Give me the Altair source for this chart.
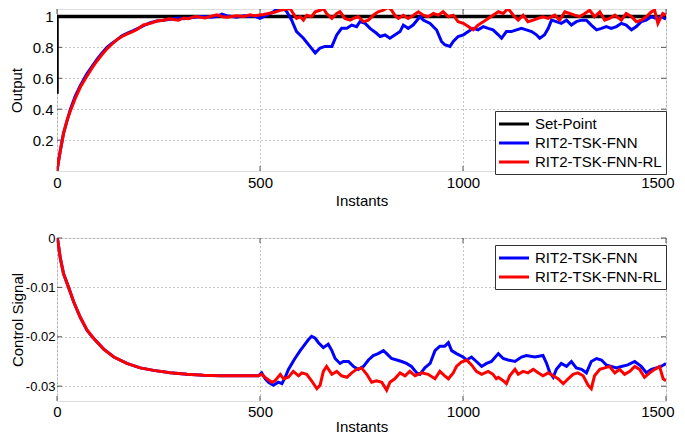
import altair as alt
import pandas as pd

FONT = "Liberation Sans"

# ---------------- top panel (Output) ----------------
sp_t = [0, 0, 1500]
sp_v = [0.5, 1.0, 1.0]

out_blue_t = [0, 8, 16, 33, 45, 57, 74, 86, 98, 110, 123, 135, 148, 160, 172, 185, 197, 213, 230, 246,
              262, 275, 287, 299, 312, 324, 340, 353, 365, 378, 394, 406, 418, 431, 443, 460, 476, 484,
              500, 517, 533, 541, 558, 566, 578, 590, 607, 623, 636, 648, 660, 677, 689, 701, 714, 726,
              738, 746, 759, 771, 787, 796, 808, 820, 832, 845, 853, 865, 877, 894, 902, 919, 935, 947,
              955, 968, 976, 988, 1001, 1013, 1025, 1037, 1050, 1062, 1074, 1087, 1095, 1107, 1119, 1132,
              1144, 1156, 1169, 1181, 1189, 1201, 1210, 1218, 1230, 1242, 1255, 1267, 1279, 1292, 1304,
              1316, 1329, 1341, 1353, 1365, 1378, 1390, 1402, 1415, 1427, 1439, 1451, 1464, 1476, 1488, 1500]
out_blue_v = [0.0, 0.13, 0.245, 0.40, 0.485, 0.55, 0.63, 0.675, 0.72, 0.76, 0.80, 0.825, 0.85, 0.875, 0.89,
              0.905, 0.92, 0.94, 0.96, 0.97, 0.975, 0.98, 0.985, 0.99, 0.985, 0.99, 0.995, 1.0, 1.0, 0.995,
              1.0, 1.015, 1.005, 1.0, 0.995, 1.005, 1.0, 1.004,
              0.987, 1.008, 1.03, 1.047, 1.051, 1.03, 0.976, 0.902, 0.859, 0.806, 0.764, 0.796, 0.806, 0.806,
              0.88, 0.923, 0.923, 0.944, 0.934, 0.966, 0.955, 0.923, 0.891, 0.87, 0.88, 0.859, 0.88, 0.902,
              0.944, 0.923, 0.944, 0.998, 0.976, 0.955, 0.912, 0.838, 0.817, 0.806, 0.838,
              0.870, 0.881, 0.902, 0.923, 0.913, 0.934, 0.923, 0.913, 0.881, 0.859, 0.902, 0.902, 0.913,
              0.923, 0.913, 0.902, 0.881, 0.859, 0.881, 0.923, 0.976, 0.966, 0.955, 0.976, 0.944, 0.966,
              0.976, 0.976, 0.944, 0.913, 0.923, 0.934, 0.923, 0.934, 0.955, 0.944, 0.913, 0.934, 0.966,
              0.976, 0.998, 0.987, 0.998, 0.983]

out_red_t = [0, 4, 8, 16, 25, 33, 45, 57, 66, 74, 86, 98, 110, 123, 135, 148, 160, 172, 185, 197, 213, 230,
             246, 262, 275, 287, 299, 312, 324, 340, 353, 365, 378, 394, 406, 418, 431, 443, 460, 476, 484,
             509, 533, 550, 566, 574, 582, 590, 599, 607, 615, 627, 636, 648, 656, 664, 677, 689, 697, 709,
             722, 730, 742, 755, 767, 779, 791, 804, 816, 824, 832, 841, 853, 865, 878, 890, 902, 914, 927,
             939, 951, 964, 976, 988, 1001, 1013, 1025, 1037, 1050, 1062, 1074, 1087, 1099, 1111, 1124,
             1136, 1148, 1160, 1173, 1185, 1197, 1210, 1226, 1238, 1251, 1263, 1275, 1287, 1300, 1312,
             1324, 1337, 1349, 1361, 1374, 1390, 1402, 1415, 1427, 1439, 1451, 1464, 1472, 1480, 1492, 1500]
out_red_v = [0.0, 0.07, 0.13, 0.24, 0.33, 0.39, 0.47, 0.54, 0.58, 0.615, 0.665, 0.71, 0.75, 0.79, 0.82,
             0.85, 0.87, 0.885, 0.90, 0.915, 0.945, 0.955, 0.97, 0.975, 0.985, 0.98, 0.975, 0.99, 0.985,
             1.0, 0.995, 0.99, 1.0, 1.01, 1.0, 0.995, 1.0, 1.005, 1.0, 1.01, 1.004,
             1.013, 1.025, 1.040, 1.047, 1.051, 1.019, 0.987, 0.998, 0.976, 1.008, 0.998, 1.030, 1.040,
             1.051, 1.019, 0.987, 1.019, 1.030, 0.987, 0.976, 0.987, 0.998, 0.966, 0.976, 1.008, 1.030,
             1.040, 1.06, 1.040, 1.008, 0.987, 1.008, 0.987, 1.008, 1.030, 1.008, 0.998, 1.019, 1.008,
             1.030, 0.998, 1.008, 0.966, 0.955, 0.934, 0.913, 0.944, 0.966, 0.987, 1.008, 1.030, 1.019,
             1.051, 1.008, 0.976, 1.008, 0.966, 0.976, 0.987, 0.998, 0.987, 1.008, 0.976, 1.030, 1.019,
             1.008, 0.998, 1.019, 1.040, 0.998, 1.030, 0.976, 0.987, 1.008, 0.976, 1.019, 0.998, 0.966,
             0.976, 0.998, 1.030, 1.040, 0.955, 1.019, 1.008]

# ---------------- bottom panel (Control Signal) ----------------
cs_blue_t = [0, 2, 8, 16, 29, 41, 57, 74, 90, 115, 140, 172, 205, 238, 279, 320, 361, 402, 443, 496,
             504, 513, 521, 533, 545, 554, 562, 570, 586, 599, 611, 619, 627, 636, 644, 656, 668, 677, 685,
             697, 705, 718, 730, 742, 755, 767, 779, 791, 804, 812, 824, 837, 849, 861, 873, 886, 894, 906,
             919, 931, 943, 955, 964, 972, 984, 1000, 1009, 1021, 1033, 1046, 1058, 1070, 1087, 1099, 1111,
             1128, 1144, 1156, 1177, 1197, 1206, 1214, 1222, 1230, 1242, 1255, 1267, 1279, 1292, 1304, 1316,
             1329, 1341, 1353, 1365, 1378, 1390, 1406, 1423, 1439, 1452, 1464, 1476, 1488, 1500]
cs_blue_v = [0.0, -0.0005, -0.004, -0.0072, -0.0101, -0.0129, -0.016, -0.0187, -0.0203, -0.0225, -0.0241,
             -0.0254, -0.0263, -0.0268, -0.0273, -0.0276, -0.0278, -0.0279, -0.0279, -0.0279,
             -0.0273, -0.0285, -0.0292, -0.0298, -0.0292, -0.0295, -0.0282, -0.0266, -0.0244, -0.0228,
             -0.0215, -0.0206, -0.0199, -0.0203, -0.0212, -0.0222, -0.0215, -0.0228, -0.0244, -0.0254,
             -0.0250, -0.0250, -0.0260, -0.0266, -0.0260, -0.0247, -0.0238, -0.0234, -0.0228, -0.0234,
             -0.0244, -0.0247, -0.0250, -0.0254, -0.0260, -0.0273, -0.0276, -0.0263, -0.0254, -0.0228,
             -0.0219, -0.0219, -0.0212, -0.0228, -0.0234, -0.0241, -0.0247, -0.0241, -0.0250, -0.0260,
             -0.0254, -0.0250, -0.0234, -0.0244, -0.0247, -0.0250, -0.0241, -0.0238, -0.0241, -0.0238,
             -0.0254, -0.0273, -0.0282, -0.0266, -0.0254, -0.0260, -0.0250, -0.0263, -0.0266, -0.0273,
             -0.0250, -0.0244, -0.0247, -0.0257, -0.0260, -0.0263, -0.0260, -0.0257, -0.0250, -0.0260,
             -0.0273, -0.0266, -0.0263, -0.0260, -0.0254]

cs_red_t = [0, 2, 8, 16, 29, 41, 57, 74, 90, 115, 140, 172, 205, 238, 279, 320, 361, 402, 443, 496,
            504, 517, 529, 537, 550, 558, 570, 582, 595, 603, 615, 627, 640, 648, 656, 664, 677, 689, 701,
            714, 726, 738, 750, 763, 775, 787, 800, 812, 820, 832, 845, 857, 869, 882, 898, 914, 931, 943,
            955, 964, 976, 984, 996, 1009, 1021, 1033, 1046, 1062, 1074, 1082, 1087, 1099, 1107, 1115, 1128,
            1136, 1148, 1160, 1173, 1185, 1197, 1210, 1222, 1234, 1247, 1259, 1271, 1283, 1296, 1308, 1316,
            1324, 1337, 1349, 1361, 1374, 1386, 1398, 1411, 1423, 1435, 1447, 1460, 1472, 1484, 1493, 1500]
cs_red_v = [0.0, -0.0005, -0.004, -0.0072, -0.0101, -0.0129, -0.016, -0.0186, -0.0203, -0.0225, -0.0241,
            -0.0254, -0.0263, -0.0268, -0.0273, -0.0276, -0.0278, -0.0279, -0.0279, -0.0279,
            -0.0276, -0.0285, -0.0292, -0.0289, -0.0276, -0.0285, -0.0282, -0.0270, -0.0279, -0.0273,
            -0.0276, -0.0289, -0.0305, -0.0298, -0.0270, -0.0260, -0.0276, -0.0270, -0.0279, -0.0282,
            -0.0273, -0.0266, -0.0263, -0.0276, -0.0292, -0.0289, -0.0292, -0.0308, -0.0292, -0.0285,
            -0.0273, -0.0279, -0.0270, -0.0279, -0.0273, -0.0276, -0.0285, -0.0270, -0.0279, -0.0285,
            -0.0273, -0.0260, -0.0251, -0.0247, -0.0257, -0.0270, -0.0276, -0.0270, -0.0276, -0.0285,
            -0.0282, -0.0289, -0.0295, -0.0279, -0.0266, -0.0276, -0.0270, -0.0273, -0.0266, -0.0273,
            -0.0279, -0.0273, -0.0279, -0.0285, -0.0295, -0.0285, -0.0276, -0.0273, -0.0279, -0.0298,
            -0.0305, -0.0279, -0.0266, -0.0263, -0.0260, -0.0273, -0.0266, -0.0276, -0.0270, -0.0260,
            -0.0266, -0.0282, -0.0273, -0.0266, -0.0260, -0.0285, -0.0289]

x_ticks = [0, 500, 1000, 1500]
y1_ticks = [0.2, 0.4, 0.6, 0.8, 1.0]
y2_ticks = [-0.03, -0.02, -0.01, 0.0]

NAMES3 = ["Set-Point", "RIT2-TSK-FNN", "RIT2-TSK-FNN-RL"]
COLS3 = ["#000000", "#0000ff", "#ff0000"]


def frame(ts, vs, name):
    return pd.DataFrame({"t": ts, "v": vs, "series": name, "i": list(range(len(ts)))})


W = 609
H1 = 162
H2 = 163
TICK = 5
FRAME = "#555555"

grid_kw = dict(grid=True, gridColor="#8c8c8c", gridDash=[1, 3], gridWidth=1,
               domain=False, ticks=False, labelFont=FONT, labelColor="black",
               titleFont=FONT, titleFontSize=15, titleFontWeight="normal", titleColor="black")

# keep the last x label inside the page (the reference's own right edge is past the page margin)
last_align = {"expr": "datum.value == 1500 ? 'right' : 'center'"}
last_offset = {"expr": "datum.value == 1500 ? 8 : 0"}

xscale = alt.Scale(domain=[0, 1500], nice=False, zero=False)
xaxis_top = alt.Axis(values=x_ticks, title="Instants", labelPadding=4, titlePadding=3, format="d",
                     labelFontSize=15, labelFlush=False, labelAlign=last_align, labelOffset=last_offset,
                     **grid_kw)
xaxis_bot = alt.Axis(values=x_ticks, title="Instants", labelPadding=3, titlePadding=0, format="d",
                     labelFontSize=15, labelFlush=False, labelAlign=last_align, labelOffset=last_offset,
                     **grid_kw)

leg_kw = dict(title=None, orient="none", symbolType="M-2,0H2", symbolSize=225, symbolStrokeWidth=3,
              symbolOffset=6, labelFont=FONT, labelFontSize=15, labelColor="black", strokeColor="#333333",
              fillColor="white", padding=4, rowPadding=2, labelOffset=12, labelLimit=300)

y1scale = alt.Scale(domain=[0, 1.048], nice=False, zero=False)
y1axis = alt.Axis(values=y1_ticks, title="Output", labelPadding=4, titlePadding=8, labelFontSize=15,
                  labelExpr="datum.value == 1 ? '1' : format(datum.value, '.1f')", **grid_kw)
y2scale = alt.Scale(domain=[-0.033, 0], nice=False, zero=False)
y2axis = alt.Axis(values=y2_ticks, title="Control Signal", labelPadding=2, titlePadding=0, labelFontSize=13,
                  labelExpr="datum.value == 0 ? '0' : '-' + format(abs(datum.value), '.2f')", **grid_kw)


def tick_layers(xax, yscale, yax, yvals, H):
    xt = pd.DataFrame({"t": x_ticks})
    yt = pd.DataFrame({"v": yvals})
    X = alt.X("t:Q", scale=xscale, axis=xax)
    Y = alt.Y("v:Q", scale=yscale, axis=yax)
    base = dict(color=FRAME, strokeWidth=1)
    return [
        alt.Chart(xt).mark_rule(**base).encode(x=X, y=alt.value(H), y2=alt.value(H - TICK)),
        alt.Chart(xt).mark_rule(**base).encode(x=X, y=alt.value(0), y2=alt.value(TICK)),
        alt.Chart(yt).mark_rule(**base).encode(y=Y, x=alt.value(0), x2=alt.value(TICK)),
        alt.Chart(yt).mark_rule(**base).encode(y=Y, x=alt.value(W - TICK), x2=alt.value(W)),
    ]


# ---- top
top_color = alt.Color("series:N", scale=alt.Scale(domain=NAMES3, range=COLS3),
                      legend=alt.Legend(legendX=438, legendY=102, **leg_kw))


def line_top(df, sw=3):
    return alt.Chart(df).mark_line(strokeWidth=sw, clip=True).encode(
        x=alt.X("t:Q", scale=xscale, axis=xaxis_top),
        y=alt.Y("v:Q", scale=y1scale, axis=y1axis),
        color=top_color, order="i:Q")


top = alt.layer(
    *tick_layers(xaxis_top, y1scale, y1axis, y1_ticks, H1),
    line_top(frame(sp_t, sp_v, NAMES3[0]), 3.5),
    line_top(frame(out_blue_t, out_blue_v, NAMES3[1])),
    line_top(frame(out_red_t, out_red_v, NAMES3[2])),
).properties(width=W, height=H1)

# ---- bottom
bot_color = alt.Color("series:N", scale=alt.Scale(domain=NAMES3[1:], range=COLS3[1:]),
                      legend=alt.Legend(legendX=438, legendY=7, **leg_kw))


def line_bot(df):
    return alt.Chart(df).mark_line(strokeWidth=3, clip=True).encode(
        x=alt.X("t:Q", scale=xscale, axis=xaxis_bot),
        y=alt.Y("v:Q", scale=y2scale, axis=y2axis),
        color=bot_color, order="i:Q")


bottom = alt.layer(
    *tick_layers(xaxis_bot, y2scale, y2axis, y2_ticks, H2),
    line_bot(frame(cs_blue_t, cs_blue_v, NAMES3[1])),
    line_bot(frame(cs_red_t, cs_red_v, NAMES3[2])),
).properties(width=W, height=H2)

chart = alt.vconcat(top, bottom, spacing=67, bounds="flush").resolve_scale(
    color="independent").properties(
    padding={"left": 0, "top": 0, "right": 0, "bottom": -1}
).configure_view(stroke=FRAME, strokeWidth=1).configure(background="white")

chart.save("out.html", embed_options={"renderer": "svg", "actions": False})
